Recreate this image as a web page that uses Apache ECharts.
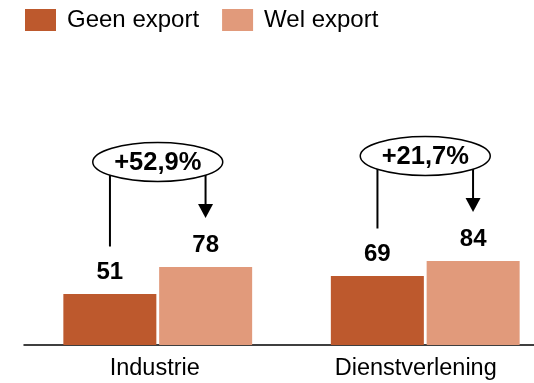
<!DOCTYPE html>
<html>
<head>
<meta charset="utf-8">
<script src="https://cdn.jsdelivr.net/npm/echarts@6/dist/echarts.min.js"></script>
<style>html,body{margin:0;padding:0;background:#fff}#c{width:534px;height:383px}</style>
</head>
<body>
<div id="c"></div>
<script>
const categories = ['Industrie', 'Dienstverlening'];
const seriesNames = ['Geen export', 'Wel export'];
const geenExport = [51, 69];
const welExport = [78, 84];
const pctLabels = ['+52,9%', '+21,7%'];

const FONT = '"Liberation Sans", Arial, sans-serif';
const DARK = '#BD592D';
const LIGHT = '#E19A7B';
const BAR_W = 93;
const BAR_GAP = 2.6;

const chart = echarts.init(document.getElementById('c'), null, {renderer: 'canvas'});

const annData = categories.map((c, i) => [i, geenExport[i], welExport[i]]);

chart.setOption({
  animation: false,
  backgroundColor: '#fff',
  legend: {
    left: 25, top: 8, padding: 0,
    itemWidth: 31, itemHeight: 22, itemGap: 23,
    icon: 'rect',
    data: seriesNames,
    textStyle: {fontFamily: FONT, fontSize: 24, color: '#000', padding: [0, 0, 0, 6]}
  },
  grid: {left: 24, width: 535, top: 45, height: 300, containLabel: false, outerBoundsMode: 'none'},
  xAxis: {
    type: 'category',
    data: categories,
    axisLine: {lineStyle: {color: '#000', width: 1.5}},
    axisTick: {show: false},
    axisLabel: {
      margin: 12,
      interval: 0,
      hideOverlap: false,
      fontFamily: FONT, fontSize: 23.5, color: '#000',
      formatter: (v, i) => i === 0 ? '{a|' + v + '}' : '{b|' + v + '}',
      rich: {
        a: {fontFamily: FONT, fontSize: 23.5, color: '#000', padding: [0, 6, 0, 0]},
        b: {fontFamily: FONT, fontSize: 23.5, color: '#000', padding: [0, 19, 0, 0]}
      }
    }
  },
  yAxis: {type: 'value', min: 0, max: 300, show: false, splitLine: {show: false}},
  series: [
    {
      name: seriesNames[0], type: 'bar', data: geenExport,
      barWidth: BAR_W, barGap: '3%',
      itemStyle: {color: DARK},
      label: {show: true, position: 'top', distance: 10, fontFamily: FONT, fontSize: 24, fontWeight: 'bold', color: '#000'}
    },
    {
      name: seriesNames[1], type: 'bar', data: welExport,
      barWidth: BAR_W,
      itemStyle: {color: LIGHT},
      label: {show: true, position: 'top', distance: 10, fontFamily: FONT, fontSize: 24, fontWeight: 'bold', color: '#000'}
    },
    {
      type: 'custom',
      data: annData,
      z: 10,
      silent: true,
      renderItem: function (params, api) {
        const i = api.value(0);
        const v1 = api.value(1), v2 = api.value(2);
        const label = pctLabels[params.dataIndex];
        const vmax = Math.max(v1, v2);
        const cx = api.coord([i, 0])[0];
        const cy = api.coord([i, vmax + 105])[1];
        const off = (BAR_W + BAR_GAP) / 2;
        const x1 = cx - off, x2 = cx + off;
        const yLineEnd = api.coord([i, v1 + 47.5])[1];
        const yTip = api.coord([i, v2 + 49])[1];
        const headH = 14, headW = 15;
        return {
          type: 'group',
          children: [
            {type: 'line', shape: {x1: x1, y1: cy, x2: x1, y2: yLineEnd}, style: {stroke: '#000', lineWidth: 2}},
            {type: 'line', shape: {x1: x2, y1: cy, x2: x2, y2: yTip - headH + 1}, style: {stroke: '#000', lineWidth: 2}},
            {type: 'polygon', shape: {points: [[x2 - headW / 2, yTip - headH], [x2 + headW / 2, yTip - headH], [x2, yTip]]}, style: {fill: '#000'}},
            {type: 'ellipse', shape: {cx: cx, cy: cy, rx: 65, ry: 19.5}, style: {fill: '#fff', stroke: '#000', lineWidth: 1.5}},
            {type: 'text', style: {text: label, x: cx, y: cy + 0.5, align: 'center', verticalAlign: 'middle', font: 'bold 25.5px ' + FONT, fill: '#000'}}
          ]
        };
      }
    }
  ]
});
</script>
</body>
</html>
